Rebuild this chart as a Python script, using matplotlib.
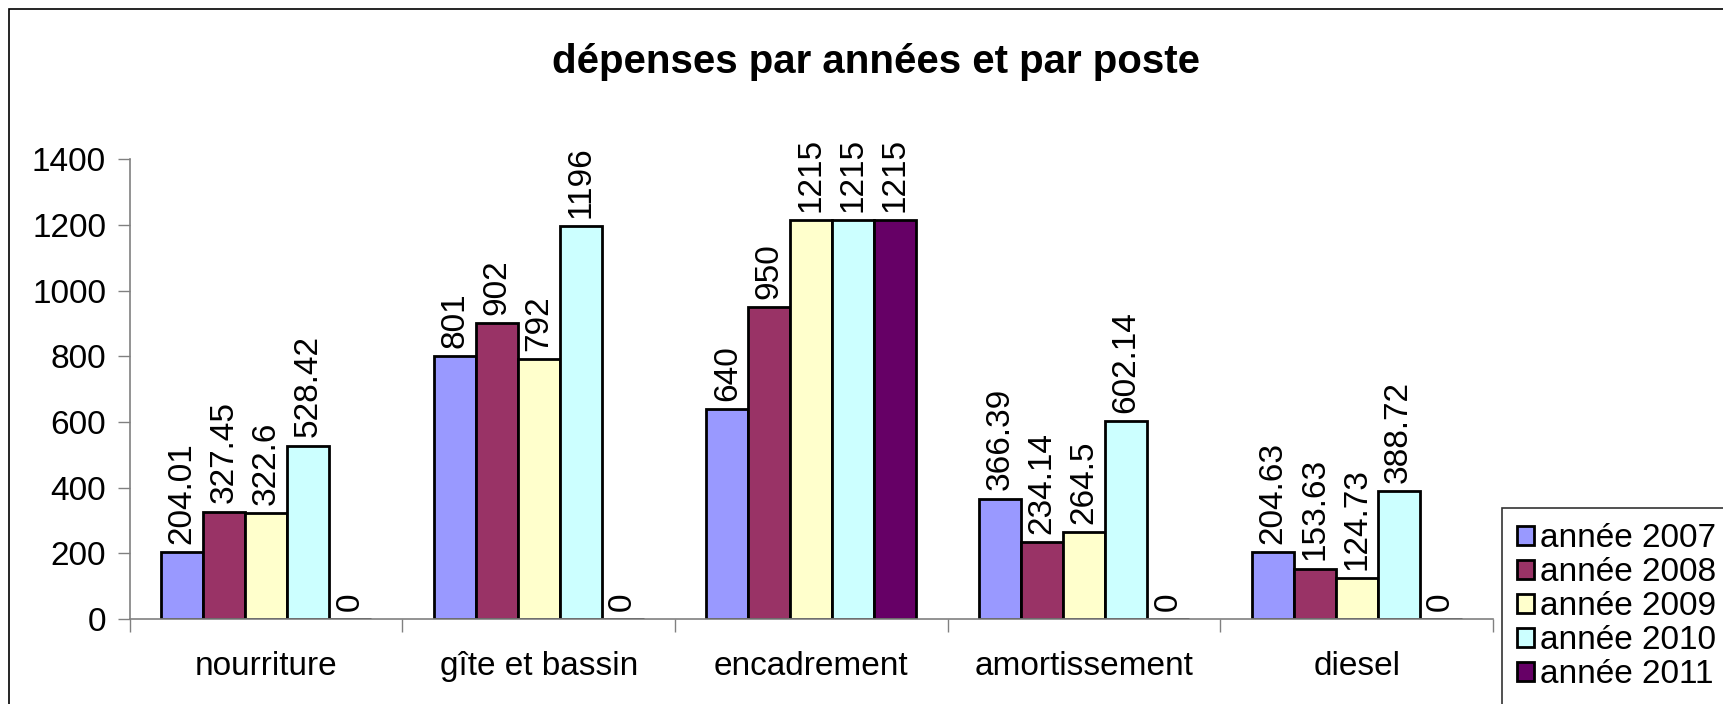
import numpy as np
import matplotlib
matplotlib.use("Agg")
import matplotlib.pyplot as plt
from matplotlib.patches import Rectangle

plt.rcParams["font.family"] = ["Liberation Sans", "DejaVu Sans"]

categories = ["nourriture", "gîte et bassin", "encadrement", "amortissement", "diesel"]
series = ["année 2007", "année 2008", "année 2009", "année 2010", "année 2011"]
v2007 = [204.01, 801, 640, 366.39, 204.63]
v2008 = [327.45, 902, 950, 234.14, 153.63]
v2009 = [322.6, 792, 1215, 264.5, 124.73]
v2010 = [528.42, 1196, 1215, 602.14, 388.72]
v2011 = [0, 0, 1215, 0, 0]
labels = [
    ["204.01", "801", "640", "366.39", "204.63"],
    ["327.45", "902", "950", "234.14", "153.63"],
    ["322.6", "792", "1215", "264.5", "124.73"],
    ["528.42", "1196", "1215", "602.14", "388.72"],
    ["0", "0", "1215", "0", "0"],
]
colors = ["#9999FF", "#993366", "#FFFFCC", "#CCFFFF", "#660066"]
values = [v2007, v2008, v2009, v2010, v2011]

FS = 24
fig = plt.figure(figsize=(17.24, 7.04), dpi=100)
# outer chart frame (cut by right/bottom edges as in the original)
fig.patches.append(Rectangle((9 / 1724, -0.1), 1.2, 1.1 - 9 / 704,
                             transform=fig.transFigure, fill=False,
                             edgecolor="black", lw=1.2))
ax = fig.add_axes([0.0752, 0.1207, 0.866 - 0.0752, 0.7736 - 0.1207])

w = 1 / 6.5
x = np.arange(len(categories))
for i, (vals, col, lab) in enumerate(zip(values, colors, series)):
    xs = x - 2.5 * w + (i + 0.5) * w
    ax.bar(xs, vals, width=w, color=col, edgecolor="black", lw=2, label=lab)
    for xx, vv, tt in zip(xs, vals, labels[i]):
        ax.annotate(tt, (xx, vv), xytext=(0, 6), textcoords="offset points",
                    rotation=90, ha="center", va="bottom", fontsize=FS)

ax.set_xlim(-0.5, len(categories) - 0.5)
ax.set_ylim(0, 1400)
ax.set_yticks(np.arange(0, 1401, 200))
ax.set_xticks(x)
ax.set_xticklabels(categories)
ax.set_xticks(np.arange(-0.5, len(categories)), minor=True)
ax.tick_params(axis="x", which="major", length=0, pad=23, labelsize=FS)
ax.tick_params(axis="x", which="minor", length=9, width=1, color="#808080")
ax.tick_params(axis="y", length=9, width=1, color="#808080", pad=8, labelsize=FS)
for s in ("top", "right"):
    ax.spines[s].set_visible(False)
for s in ("left", "bottom"):
    ax.spines[s].set_color("#808080")
    ax.spines[s].set_linewidth(1.2)

fig.text(797 / 1568, 1 - 56 / 640, "dépenses par années et par poste",
         ha="center", va="center", fontsize=29, fontweight="bold")

leg = fig.legend(loc="upper left", bbox_to_anchor=(1502 / 1724, 1 - 508 / 704),
                 fontsize=FS, frameon=True, fancybox=False, edgecolor="black",
                 handlelength=0.5, handleheight=0.5, handletextpad=0.2,
                 borderpad=0.45, labelspacing=0.09, borderaxespad=0)
leg.get_frame().set_linewidth(1.2)

fig.savefig("out.png", dpi=100, facecolor="white")
